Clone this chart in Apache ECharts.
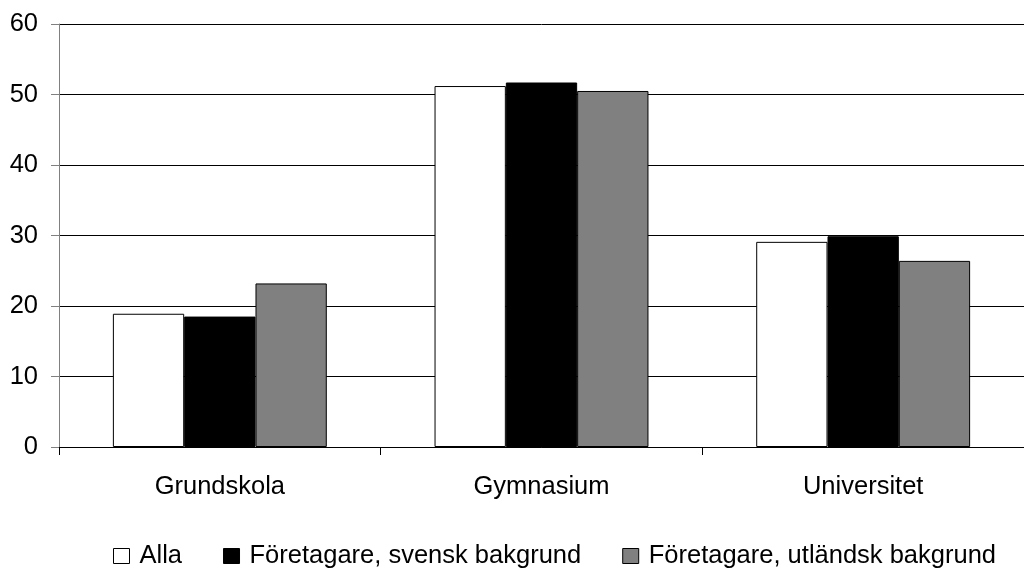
<!DOCTYPE html>
<html>
<head>
<meta charset="utf-8">
<script src="https://cdn.jsdelivr.net/npm/echarts@6/dist/echarts.min.js"></script>
<style>
html,body{margin:0;padding:0;background:#fff;}
#chart{width:1024px;height:571px;}
</style>
</head>
<body>
<div id="chart"></div>
<script>
const categories = ["Grundskola", "Gymnasium", "Universitet"];
const seriesNames = ["Alla", "Företagare, svensk bakgrund", "Företagare, utländsk bakgrund"];
const alla = [18.9, 51.2, 29.1];
const svensk = [18.5, 51.7, 29.9];
const utlandsk = [23.2, 50.5, 26.4];
const yTicks = [0, 10, 20, 30, 40, 50, 60];

const FONT = '"Liberation Sans", Arial, sans-serif';
const FS = 25.5;
const colors = ["#FFFFFF", "#000000", "#808080"];
const values = [alla, svensk, utlandsk];

const chart = echarts.init(document.getElementById('chart'), null, {renderer: 'canvas'});
chart.setOption({
  animation: false,
  backgroundColor: '#fff',
  textStyle: {fontFamily: FONT},
  grid: {left: 59, right: 0, top: 24, bottom: 124, containLabel: false},
  legend: {
    left: 113, top: 543, padding: 0,
    itemWidth: 16, itemHeight: 15, itemGap: 41,
    icon: 'rect',
    textStyle: {fontFamily: FONT, fontSize: FS, color: '#000', padding: [0, 0, 0, 5]},
    data: seriesNames.map((n) => ({name: n, itemStyle: {borderColor: '#000', borderWidth: 1}}))
  },
  xAxis: {
    type: 'category',
    data: categories,
    boundaryGap: true,
    axisLine: {show: true, lineStyle: {color: '#000', width: 1}},
    axisTick: {show: true, length: 8, inside: false, lineStyle: {color: '#000'}},
    axisLabel: {fontFamily: FONT, fontSize: FS, color: '#000', margin: 27},
    splitLine: {show: false}
  },
  yAxis: {
    type: 'value',
    min: yTicks[0], max: yTicks[yTicks.length - 1], interval: 10,
    axisLine: {show: true, lineStyle: {color: '#808080', width: 1}},
    axisTick: {show: true, length: 8, lineStyle: {color: '#808080'}},
    axisLabel: {fontFamily: FONT, fontSize: FS, color: '#000', margin: 21},
    splitLine: {show: true, lineStyle: {color: '#000', width: 1}}
  },
  series: seriesNames.map((n, i) => ({
    name: n,
    type: 'bar',
    data: values[i],
    barGap: '0%',
    barCategoryGap: '33.5%',
    itemStyle: {color: colors[i], borderColor: '#000', borderWidth: 1}
  }))
});
</script>
</body>
</html>
